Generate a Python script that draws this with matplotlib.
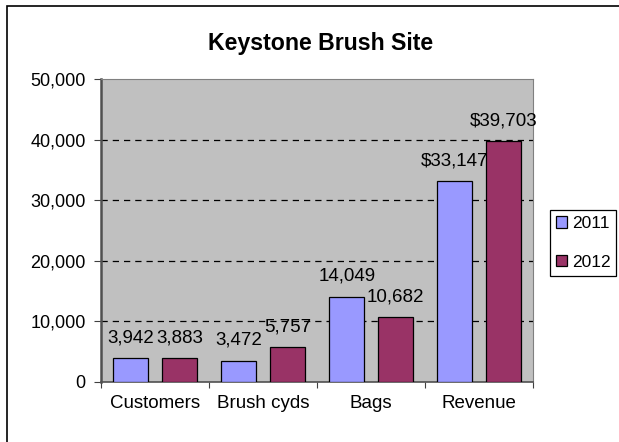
import matplotlib
matplotlib.use('Agg')
import matplotlib.pyplot as plt
import numpy as np
from matplotlib.patches import Rectangle
from matplotlib.ticker import FuncFormatter

plt.rcParams['font.family'] = ['Liberation Sans', 'DejaVu Sans']

# data
categories = ['Customers', 'Brush cyds', 'Bags', 'Revenue']
vals_2011 = [3942, 3472, 14049, 33147]
vals_2012 = [3883, 5757, 10682, 39703]
labels_2011 = ['3,942', '3,472', '14,049', '$33,147']
labels_2012 = ['3,883', '5,757', '10,682', '$39,703']
series_names = ['2011', '2012']
col_2011 = '#9999FF'
col_2012 = '#993366'

fig = plt.figure(figsize=(6.19, 4.42), dpi=100)
ax = fig.add_axes([101 / 619, 1 - 382 / 442, 432 / 619, 303 / 442])
ax.set_facecolor('#C0C0C0')

x = np.arange(len(categories)) + 0.5
w = 0.32
off = 0.225
b1 = ax.bar(x - off, vals_2011, w, color=col_2011, edgecolor='black', linewidth=0.9, label=series_names[0], zorder=3)
b2 = ax.bar(x + off, vals_2012, w, color=col_2012, edgecolor='black', linewidth=0.9, label=series_names[1], zorder=3)

# value labels sit a bit above each bar
for bars, labs in ((b1, labels_2011), (b2, labels_2012)):
    for r, t in zip(bars, labs):
        ax.annotate(t, (r.get_x() + r.get_width() / 2, r.get_height()),
                    xytext=(0, 11.5), textcoords='offset points',
                    ha='center', va='baseline', fontsize=13.5, zorder=5)

ax.set_xlim(0, len(categories))
ax.set_ylim(0, 50000)
ax.set_yticks(np.arange(0, 50001, 10000))
ax.yaxis.set_major_formatter(FuncFormatter(lambda v, p: '{:,.0f}'.format(v)))
for yv in range(10000, 50000, 10000):
    ax.axhline(yv, color='black', linestyle=(0, (5, 4)), linewidth=0.9, zorder=1)

ax.set_xticks(np.arange(0, len(categories) + 1))
ax.set_xticklabels([])
ax.set_xticks(x, minor=True)
ax.set_xticklabels(categories, minor=True)
ax.tick_params(axis='x', which='minor', length=0, labelsize=13.5, pad=9)
ax.tick_params(axis='x', which='major', length=4, direction='out', color='#404040')
ax.tick_params(axis='y', length=5, direction='out', labelsize=13, pad=6, color='#404040')

ax.spines['left'].set_color('#505050')
ax.spines['left'].set_linewidth(1.8)
ax.spines['bottom'].set_color('#505050')
ax.spines['bottom'].set_linewidth(1.2)
ax.spines['top'].set_color('#808080')
ax.spines['right'].set_color('#808080')

fig.text(321 / 619, 1 - 50 / 442, 'Keystone Brush Site', ha='center', va='baseline',
         fontsize=16.7, fontweight='bold')

leg = ax.legend(loc='upper left', bbox_to_anchor=(550 / 619, 1 - 210 / 442),
                bbox_transform=fig.transFigure, fontsize=12.5, frameon=True,
                fancybox=False, edgecolor='black', framealpha=1,
                handlelength=0.65, handleheight=0.65, handletextpad=0.25,
                borderpad=0.35, labelspacing=1.35, borderaxespad=0)
leg.get_frame().set_linewidth(0.9)

# outer chart border
fig.patches.append(Rectangle((7 / 619, -0.1), 1.2, 1 - 6 / 442 + 0.1, transform=fig.transFigure,
                             fill=False, edgecolor='black', linewidth=1.2))

fig.savefig('out.png', dpi=100)
